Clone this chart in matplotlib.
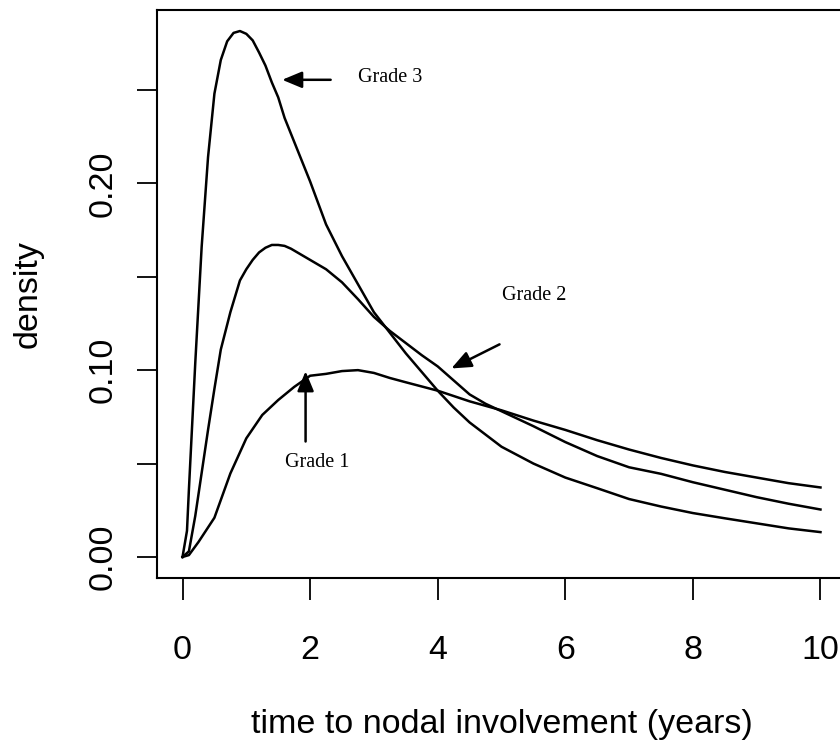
import matplotlib
matplotlib.use("Agg")
import matplotlib.pyplot as plt

# ---- data ----
g3_x = [0, 0.07, 0.1, 0.2, 0.3, 0.4, 0.5, 0.6, 0.7, 0.8, 0.9, 1.0, 1.1, 1.2, 1.3, 1.4,
        1.5, 1.6, 1.8, 2.0, 2.25, 2.5, 2.75, 3.0, 3.25, 3.5, 3.75, 4.0, 4.25, 4.5,
        5.0, 5.5, 6.0, 6.5, 7.0, 7.5, 8.0, 8.5, 9.0, 9.5, 10.0]
g3_y = [0, 0.014, 0.036, 0.104, 0.166, 0.214, 0.248, 0.266, 0.276, 0.2805, 0.2815, 0.280,
        0.2765, 0.270, 0.263, 0.254, 0.246, 0.235, 0.218, 0.201, 0.178, 0.161, 0.146,
        0.131, 0.120, 0.109, 0.099, 0.089, 0.080, 0.072, 0.059, 0.050, 0.0425, 0.0368,
        0.031, 0.027, 0.0235, 0.0207, 0.018, 0.0153, 0.0133]

g2_x = [0, 0.1, 0.2, 0.3, 0.4, 0.5, 0.6, 0.75, 0.9, 1.0, 1.1, 1.2, 1.3, 1.4, 1.5, 1.6,
        1.7, 1.8, 2.0, 2.25, 2.5, 2.75, 3.0, 3.25, 3.5, 3.75, 4.0, 4.25, 4.5, 4.75,
        5.0, 5.5, 6.0, 6.5, 7.0, 7.5, 8.0, 8.5, 9.0, 9.5, 10.0]
g2_y = [0, 0.003, 0.022, 0.045, 0.068, 0.090, 0.111, 0.131, 0.148, 0.154, 0.159, 0.163,
        0.1655, 0.167, 0.167, 0.1665, 0.165, 0.163, 0.159, 0.154, 0.147, 0.138, 0.1285,
        0.121, 0.1145, 0.108, 0.102, 0.0945, 0.087, 0.082, 0.078, 0.070, 0.0615, 0.054,
        0.048, 0.0445, 0.040, 0.036, 0.032, 0.0285, 0.0254]

g1_x = [0, 0.1, 0.25, 0.5, 0.75, 1.0, 1.25, 1.5, 1.75, 2.0, 2.25, 2.5, 2.75, 3.0, 3.25,
        3.5, 4.0, 4.5, 5.0, 5.5, 6.0, 6.5, 7.0, 7.5, 8.0, 8.5, 9.0, 9.5, 10.0]
g1_y = [0, 0.001, 0.008, 0.021, 0.0447, 0.0635, 0.076, 0.084, 0.091, 0.097, 0.098,
        0.0995, 0.100, 0.0985, 0.0958, 0.0935, 0.089, 0.0833, 0.0785, 0.073, 0.068,
        0.0625, 0.0575, 0.053, 0.049, 0.0455, 0.0425, 0.0395, 0.0372]

x_ticks = [0, 2, 4, 6, 8, 10]
y_ticks = [0.00, 0.05, 0.10, 0.15, 0.20, 0.25]
y_tick_labels = ["0.00", "", "0.10", "", "0.20", ""]

labels = ["Grade 1", "Grade 2", "Grade 3"]
label_pos = [(2.107, 0.0503), (5.511, 0.1401), (3.25, 0.2566)]
arrow_tail = [(1.929, 0.0618), (4.969, 0.1138), (2.322, 0.2554)]
arrow_head = [(1.929, 0.0994), (4.214, 0.1009), (1.562, 0.2554)]

# ---- figure ----
W, H = 840, 745
fig = plt.figure(figsize=(W / 100, H / 100), dpi=100)
ax = fig.add_axes([157 / W, 167 / H, (846 - 157) / W, (578 - 10) / H])

lw = 1.8
for xs, ys in [(g1_x, g1_y), (g2_x, g2_y), (g3_x, g3_y)]:
    ax.plot(xs, ys, color="black", lw=lw, solid_joinstyle="round")

ymax = max(g3_y)
ax.set_xlim(-0.4, 10.4)
ax.set_ylim(-0.04 * ymax, ymax * 1.04)

sans = ["Liberation Sans", "DejaVu Sans"]
serif = ["Liberation Serif", "DejaVu Serif"]

ax.set_xticks(x_ticks)
ax.set_xticklabels([str(t) for t in x_ticks], family=sans, fontsize=24.5)
ax.set_yticks(y_ticks)
ax.set_yticklabels(y_tick_labels, family=sans, fontsize=24.5, rotation=90,
                   va="center")
ax.tick_params(axis="both", direction="out", width=1.3, color="black")
ax.tick_params(axis="x", length=15.5, pad=25.5)
ax.tick_params(axis="y", length=14.4, pad=13)

for s in ax.spines.values():
    s.set_linewidth(1.5)

ax.set_xlabel("time to nodal involvement (years)", family=sans, fontsize=24.5,
              labelpad=31)
ax.set_ylabel("density", family=sans, fontsize=24.5, labelpad=32)

for lab, pos, tail, head in zip(labels, label_pos, arrow_tail, arrow_head):
    ax.text(pos[0], pos[1], lab, family=serif, fontsize=14.5, ha="center",
            va="center")
    ax.annotate("", xy=head, xytext=tail,
                arrowprops=dict(arrowstyle="-|>,head_length=0.6,head_width=0.25",
                                mutation_scale=20, lw=lw, color="black",
                                shrinkA=0, shrinkB=0))

fig.savefig("out.png", dpi=100)
